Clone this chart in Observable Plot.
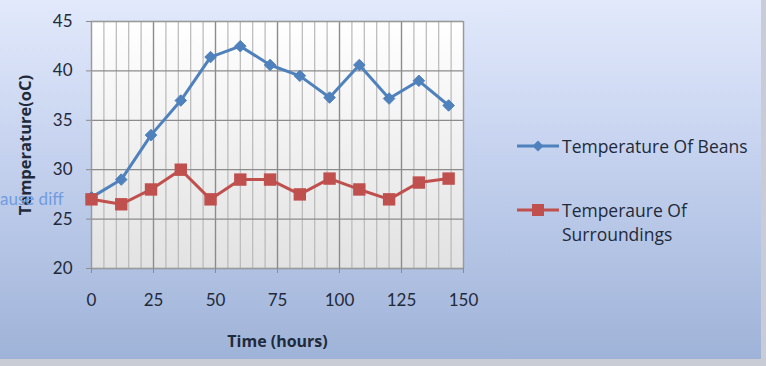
<!DOCTYPE html>
<html>
<head>
<meta charset="utf-8">
<script src="https://cdn.jsdelivr.net/npm/d3@7"></script>
<script src="https://cdn.jsdelivr.net/npm/@observablehq/plot@0.6"></script>
<style>
  html, body { margin: 0; padding: 0; background: #c9ccd4; }
  #wrap { position: relative; width: 761px; height: 359px; overflow: hidden;
    background: linear-gradient(to bottom, #e2e9fb 0%, #c4d1ee 45%, #9fb3d8 100%);
    font-family: "Open Sans", Lato, sans-serif; color: #1f2a3a; }
  #chart { position: absolute; left: 0; top: 0; }
  .leg { position: absolute; font-size: 17.5px; line-height: 24px; color: #1f2a3a; }
  .legsym { position: absolute; }
  #overlay { position: absolute; left: 0; top: 188px; font-size: 17px; color: #6f9ce0; font-family: Lato, sans-serif; }
</style>
</head>
<body>
<div id="wrap">
  <div id="chart"></div>
  <div id="overlay">ause diff</div>
</div>
<script>
const hours = [0, 12, 24, 36, 48, 60, 72, 84, 96, 108, 120, 132, 144];
const beans = [27.2, 29, 33.5, 37, 41.4, 42.5, 40.6, 39.5, 37.3, 40.6, 37.2, 39, 36.5];
const surroundings = [27, 26.5, 28, 30, 27, 29, 29, 27.5, 29.1, 28, 27, 28.7, 29.1];
const seriesNames = ["Temperature Of Beans", "Temperaure Of Surroundings"];
const xTicks = [0, 25, 50, 75, 100, 125, 150];
const xMinor = [0, 5, 10, 15, 20, 25, 30, 35, 40, 45, 50, 55, 60, 65, 70, 75, 80, 85, 90, 95, 100, 105, 110, 115, 120, 125, 130, 135, 140, 145, 150];
const yTicks = [20, 25, 30, 35, 40, 45];
const xTitle = "Time (hours)";
const yTitle = "Temperature(oC)";

const blue = "#4f81bd", red = "#c0504d";
const beansData = hours.map((h, i) => ({h, v: beans[i]}));
const surrData = hours.map((h, i) => ({h, v: surroundings[i]}));

const diamond = {
  draw(ctx, size) {
    const s = Math.sqrt(size / 2);
    ctx.moveTo(0, -s); ctx.lineTo(s, 0); ctx.lineTo(0, s); ctx.lineTo(-s, 0); ctx.closePath();
  }
};

const plot = Plot.plot({
  width: 761, height: 359,
  marginLeft: 91, marginRight: 298, marginTop: 21, marginBottom: 91,
  x: {domain: [0, 150]},
  y: {domain: [20, 45]},
  style: {background: "transparent", fontFamily: "Lato, sans-serif", fontSize: "16px", color: "#1f2a3a", overflow: "visible"},
  marks: [
    Plot.frame({fill: "url(#plotBg)"}),
    Plot.ruleX(xMinor, {stroke: "#b8b8b8", strokeWidth: 1.2}),
    Plot.ruleX(xTicks, {stroke: "#8c8c8c", strokeWidth: 1.3}),
    Plot.ruleY(yTicks, {stroke: "#8c8c8c", strokeWidth: 1.3}),
    Plot.frame({stroke: "#9a9a9a"}),
    Plot.axisX({ticks: xTicks, tickSize: 5, tickPadding: 20, label: null, fontSize: 17, stroke: "#8c8c8c"}),
    Plot.axisY({ticks: yTicks, tickSize: 5, tickPadding: 14, label: null, fontSize: 17, stroke: "#8c8c8c"}),
    Plot.text([yTitle], {frameAnchor: "left", textAnchor: "middle", lineAnchor: "middle", dx: -66, rotate: -90, fontSize: 16.5, fontWeight: "bold", fill: "#1f2a3a", fontFamily: "Open Sans, sans-serif"}),
    Plot.text([xTitle], {frameAnchor: "bottom", lineAnchor: "middle", dy: 73, fontSize: 16, fontWeight: "bold", fill: "#1f2a3a", fontFamily: "Open Sans, sans-serif"}),
    Plot.line(beansData, {x: "h", y: "v", stroke: blue, strokeWidth: 3}),
    Plot.dot(beansData, {x: "h", y: "v", symbol: diamond, r: 4.6, fill: blue, stroke: blue, strokeWidth: 1}),
    Plot.line(surrData, {x: "h", y: "v", stroke: red, strokeWidth: 3}),
    Plot.dot(surrData, {x: "h", y: "v", symbol: "square", r: 7, fill: red})
  ]
});

// gradient for plot area
const ns = "http://www.w3.org/2000/svg";
const defs = document.createElementNS(ns, "defs");
defs.innerHTML = '<linearGradient id="plotBg" x1="0" y1="0" x2="0" y2="1"><stop offset="0" stop-color="#ffffff"/><stop offset="1" stop-color="#e2e2e2"/></linearGradient>';
plot.insertBefore(defs, plot.firstChild);
document.getElementById("chart").appendChild(plot);

// legend
const wrap = document.getElementById("wrap");
function legendItem(top, color, isSquare, lines) {
  const sym = document.createElementNS(ns, "svg");
  sym.setAttribute("width", 44); sym.setAttribute("height", 16);
  sym.setAttribute("class", "legsym");
  sym.style.left = "516px"; sym.style.top = (top - 8) + "px";
  sym.innerHTML = `<line x1="1" x2="43" y1="8" y2="8" stroke="${color}" stroke-width="3"/>` +
    (isSquare ? `<rect x="16" y="2" width="12" height="12" fill="${color}"/>`
              : `<path d="M22,2.5L27.5,8L22,13.5L16.5,8Z" fill="${color}"/>`);
  wrap.appendChild(sym);
  const t = document.createElement("div");
  t.className = "leg";
  t.style.left = "562px"; t.style.top = (top - 12) + "px";
  t.innerHTML = lines.join("<br>");
  wrap.appendChild(t);
}
legendItem(146, blue, false, [seriesNames[0]]);
legendItem(210, red, true, ["Temperaure Of", "Surroundings"]);
</script>
</body>
</html>
